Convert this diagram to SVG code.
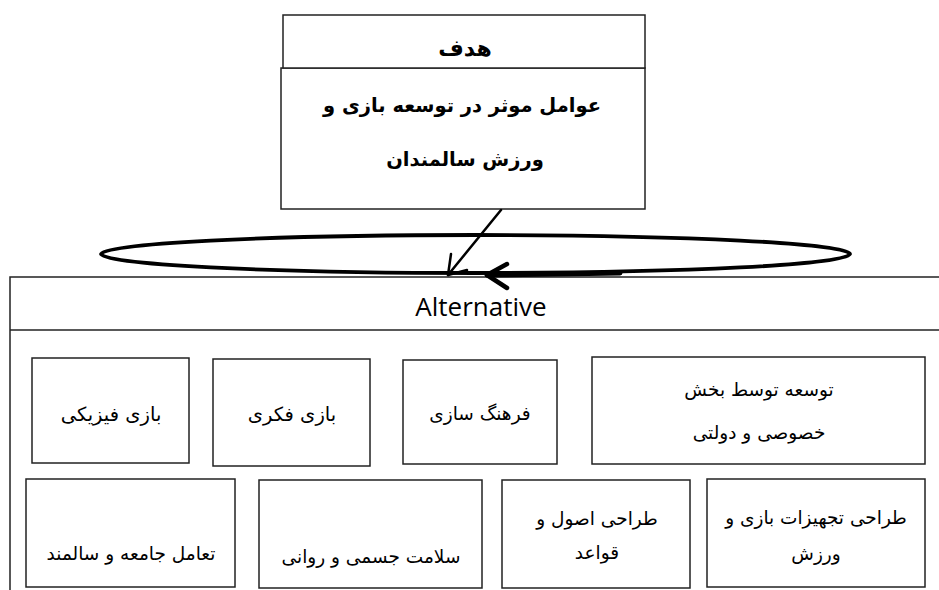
<svg xmlns="http://www.w3.org/2000/svg" width="939" height="590" viewBox="0 0 939 590">
<style>
.box{fill:#fff;stroke:#222;stroke-width:1.5}
.t{font-family:'DejaVu Sans',sans-serif;font-size:18.5px;fill:#000;text-anchor:middle}
.b{font-weight:bold;font-size:19.5px}
.ln{fill:none;stroke:#000;stroke-linecap:round;stroke-linejoin:round}
</style>
<rect width="939" height="590" fill="#fff"/>
<g id="goal">
  <rect class="box" x="281" y="68" width="364" height="141"/>
  <rect class="box" x="283" y="15" width="362" height="53"/>
  <text class="t b" x="465" y="56" style="font-size:22px">هدف</text>
  <text class="t b" x="462" y="112">عوامل موثر در توسعه بازی و</text>
  <text class="t b" x="465" y="166">ورزش سالمندان</text>
</g>
<g id="alternative">
  <path d="M10,590 V277 H939" fill="none" stroke="#222" stroke-width="1.5"/>
  <line x1="10" y1="330" x2="939" y2="330" stroke="#222" stroke-width="1.5"/>
  <text x="481" y="316" style="font-family:'Open Sans',sans-serif;font-size:26px;text-anchor:middle">Alternative</text>
</g>
<g id="n1"><rect class="box" x="32" y="358" width="157" height="105"/><text class="t" x="111" y="421" style="font-size:19.5px">بازی فیزیکی</text></g>
<g id="n2"><rect class="box" x="213" y="359" width="157" height="107"/><text class="t" x="292" y="421" style="font-size:19.5px">بازی فکری</text></g>
<g id="n3"><rect class="box" x="403" y="360" width="154" height="104"/><text class="t" x="480" y="420">فرهنگ سازی</text></g>
<g id="n4"><rect class="box" x="592" y="357" width="333" height="107"/><text class="t" x="759" y="396">توسعه توسط بخش</text><text class="t" x="759" y="439">خصوصی و دولتی</text></g>
<g id="n5"><rect class="box" x="26" y="479" width="209" height="108"/><text class="t" x="131" y="560">تعامل جامعه و سالمند</text></g>
<g id="n6"><rect class="box" x="259" y="480" width="223" height="108"/><text class="t" x="371" y="563">سلامت جسمی و روانی</text></g>
<g id="n7"><rect class="box" x="502" y="480" width="188" height="108"/><text class="t" x="597" y="525">طراحی اصول و</text><text class="t" x="597" y="559">قواعد</text></g>
<g id="n8"><rect class="box" x="707" y="479" width="218" height="108"/><text class="t" x="816" y="524">طراحی تجهیزات بازی و</text><text class="t" x="816" y="560">ورزش</text></g>
<g id="connectors">
  <ellipse cx="475.5" cy="254" rx="374.5" ry="19" fill="none" stroke="#000" stroke-width="3.8"/>
  <path class="ln" d="M501,210 L448,275" stroke-width="2.5"/>
  <path class="ln" d="M451,254 L448,275 L467,270" stroke-width="2.5"/>
  <path class="ln" d="M620,273 L487,275" stroke-width="5"/>
  <path class="ln" d="M507,264 L487,275 L507,288" stroke-width="4.5"/>
</g>
</svg>
